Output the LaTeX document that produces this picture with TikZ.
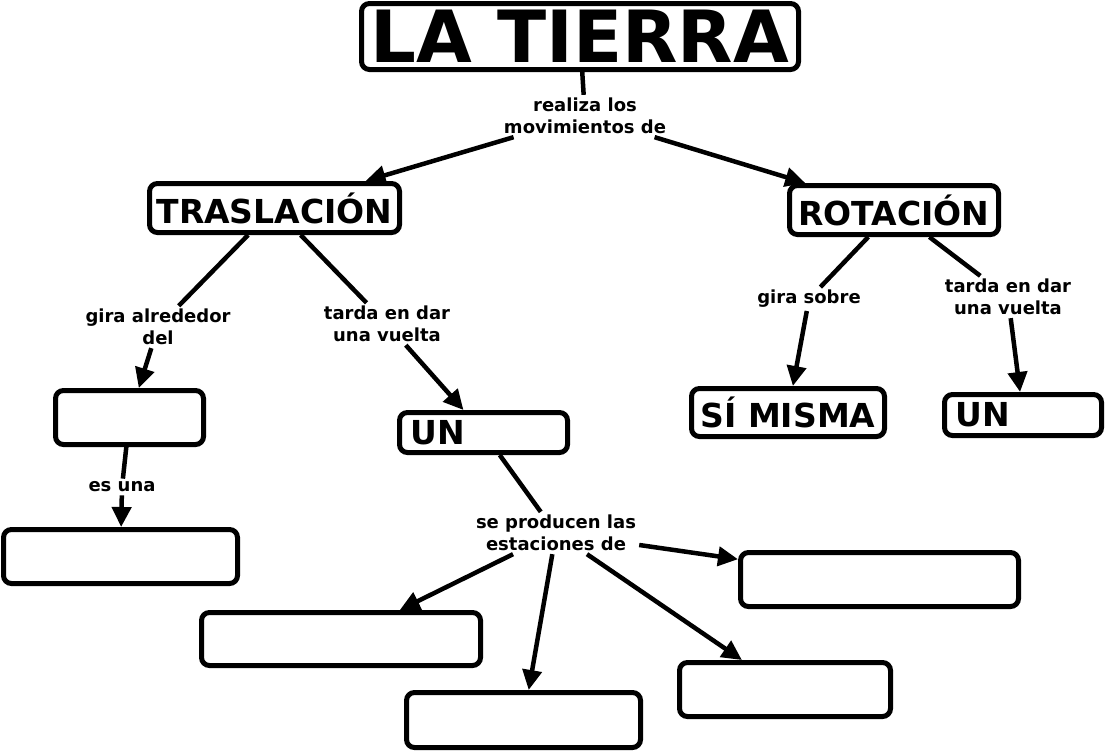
\documentclass[tikz,border=0pt]{standalone}
\usepackage{fontspec}
\setmainfont{DejaVu Sans}
\usetikzlibrary{arrows.meta}
\begin{document}
\begin{tikzpicture}[x=1pt,y=-1pt,
  box/.style={draw, line width=5pt, rounded corners=8pt, inner sep=0pt},
  big/.style={font=\fontsize{33}{40}\selectfont\bfseries},
  lbl/.style={font=\fontsize{18}{22}\selectfont\bfseries, align=center, inner sep=3pt},
  conn/.style={line width=4.5pt},
  arr/.style={line width=4.5pt, -{Triangle[length=20pt,width=19pt]}},
]
\fill[white] (0,0) rectangle (1107,753);
\useasboundingbox (0,0) rectangle (1107,753);

% boxes
\node[box, minimum width=437pt, minimum height=66pt, font=\fontsize{72}{80}\selectfont\bfseries] (tierra) at (580,36.5) {LA TIERRA};
\node[box, big, minimum width=250pt, minimum height=49pt] (tras) at (274.5,208) {TRASLACIÓN};
\node[box, big, minimum width=209pt, minimum height=49pt] (rot) at (894,210) {ROTACIÓN};
\node[box, minimum width=148pt, minimum height=54pt] (sol) at (129.5,417.5) {};
\node[box, minimum width=234pt, minimum height=54pt] (estrella) at (120.5,556.5) {};
\node[box, big, text width=146pt, inner xsep=11pt, align=left, minimum height=40pt] (un1) at (483.5,432.5) {UN};
\node[box, big, minimum width=193pt, minimum height=48pt] (sim) at (788,412.5) {SÍ MISMA};
\node[box, big, text width=135pt, inner xsep=11pt, align=left, minimum height=41pt] (un2) at (1023,415) {UN};
\node[box, minimum width=278pt, minimum height=54pt] (e1) at (879.5,579.5) {};
\node[box, minimum width=279pt, minimum height=53pt] (e2) at (341,639) {};
\node[box, minimum width=234pt, minimum height=55pt] (e3) at (523.5,720) {};
\node[box, minimum width=211pt, minimum height=54pt] (e4) at (785,689.5) {};

% labels
\node[lbl] (l1) at (585,116) {realiza los\\movimientos de};
\node[lbl] (l2) at (158,327) {gira alrededor\\del};
\node[lbl] (l3) at (387,324) {tarda en dar\\una vuelta};
\node[lbl] (l4) at (122,487) {es una};
\node[lbl] (l5) at (556,533) {se producen las\\estaciones de};
\node[lbl] (l6) at (809,299) {gira sobre};
\node[lbl] (l7) at (1008,297) {tarda en dar\\una vuelta};

% connectors
\draw[conn] (tierra) -- (l1);
\draw[arr] (l1) -- (tras);
\draw[arr] (l1) -- (rot);
\draw[conn] (tras) -- (l2);
\draw[arr] (l2) -- (sol);
\draw[conn] (tras) -- (l3);
\draw[arr] (l3) -- (un1);
\draw[conn] (sol) -- (l4);
\draw[arr] (l4) -- (estrella);
\draw[conn] (un1) -- (l5);
\draw[arr] (l5) -- (e1);
\draw[arr] (l5) -- (e2);
\draw[arr] (l5) -- (e3);
\draw[arr] (l5) -- (e4);
\draw[conn] (rot) -- (l6);
\draw[arr] (l6) -- (sim);
\draw[conn] (rot) -- (l7);
\draw[arr] (l7) -- (un2);
\end{tikzpicture}
\end{document}
